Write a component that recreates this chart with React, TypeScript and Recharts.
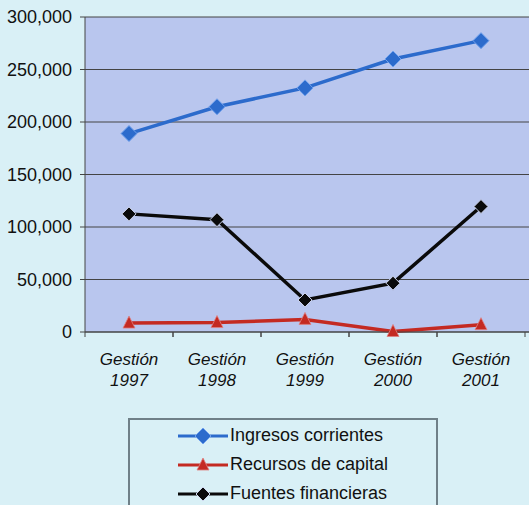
import { LineChart, Line, XAxis, YAxis, CartesianGrid } from "recharts";

const years = ["1997", "1998", "1999", "2000", "2001"];
const ingresosCorrientes = [189000, 214500, 232500, 260000, 277500];
const recursosCapital = [8500, 9000, 12000, 500, 7000];
const fuentesFinancieras = [112500, 107000, 30500, 46500, 119500];
const yTicks = [0, 50000, 100000, 150000, 200000, 250000, 300000];

const SERIES = [
  { key: "ingresos", name: "Ingresos corrientes", color: "#2c6bcc", marker: "diamond" },
  { key: "recursos", name: "Recursos de capital", color: "#c42a22", marker: "triangle" },
  { key: "fuentes", name: "Fuentes financieras", color: "#0a0a0a", marker: "diamondSmall" },
];

const data = years.map((y, i) => ({
  year: y,
  ingresos: ingresosCorrientes[i],
  recursos: recursosCapital[i],
  fuentes: fuentesFinancieras[i],
}));

const FONT = "'Liberation Sans', Arial, sans-serif";

function Marker({ cx, cy, kind, color }: { cx: number; cy: number; kind: string; color: string }) {
  if (kind === "triangle") {
    const s = 6;
    return (
      <path
        d={`M${cx},${cy - s - 1} L${cx + s},${cy + s - 1} L${cx - s},${cy + s - 1} Z`}
        fill={color}
        stroke="#e08080"
        strokeWidth={0.8}
      />
    );
  }
  const r = kind === "diamond" ? 8 : 7;
  return (
    <path
      d={`M${cx},${cy - r} L${cx + r},${cy} L${cx},${cy + r} L${cx - r},${cy} Z`}
      fill={color}
      stroke={kind === "diamond" ? "#6fa0ec" : "#cfd6ee"}
      strokeWidth={1}
    />
  );
}

function makeDot(kind: string, color: string) {
  return (props: any) => {
    const { cx, cy, index } = props;
    if (cx == null || cy == null) return <g key={index} />;
    return <Marker key={index} cx={cx} cy={cy} kind={kind} color={color} />;
  };
}

function XTick(props: any) {
  const { x, y, payload } = props;
  return (
    <g>
      <line x1={x - 44} x2={x - 44} y1={y} y2={y + 5} stroke="#444" />
      <line x1={x + 44} x2={x + 44} y1={y} y2={y + 5} stroke="#444" />
      <text
        x={x}
        y={y}
        textAnchor="middle"
        fontFamily={FONT}
        fontSize={17}
        fontStyle="italic"
        fill="#111"
      >
        <tspan x={x} dy={33}>Gestión</tspan>
        <tspan x={x} dy={21}>{payload.value}</tspan>
      </text>
    </g>
  );
}

function LegendBox() {
  return (
    <div
      style={{
        position: "absolute",
        left: 128,
        top: 418,
        width: 310,
        height: 100,
        border: "2px solid #6f8088",
        boxSizing: "border-box",
        paddingTop: 1,
        paddingLeft: 48,
        fontFamily: FONT,
        fontSize: 18,
        color: "#111",
      }}
    >
      {SERIES.map((s) => (
        <div key={s.key} style={{ height: 29, display: "flex", alignItems: "center" }}>
          <svg width={52} height={18} style={{ display: "block" }}>
            <line x1={0} x2={50} y1={9} y2={9} stroke={s.color} strokeWidth={3} />
            <Marker cx={25} cy={9} kind={s.marker} color={s.color} />
          </svg>
          <span>{s.name}</span>
        </div>
      ))}
    </div>
  );
}

export default function App() {
  return (
    <div
      style={{
        position: "absolute",
        left: 0,
        top: 0,
        width: 529,
        height: 505,
        overflow: "hidden",
        background: "#d9f0f6",
      }}
    >
      <LineChart
        width={545}
        height={505}
        data={data}
        margin={{ top: 17, right: 10, bottom: 113, left: 0 }}
      >
        <CartesianGrid vertical={false} stroke="#444" fill="#b9c6ee" strokeDasharray="" />
        <XAxis
          dataKey="year"
          height={60}
          padding={{ left: 44, right: 54 }}
          tickLine={false}
          tickSize={0}
          tickMargin={0}
          stroke="#444"
          interval={0}
          tick={<XTick />}
        />
        <YAxis
          width={85}
          domain={[0, 300000]}
          ticks={yTicks}
          interval={0}
          tickSize={5}
          tickMargin={8}
          stroke="#444"
          tickFormatter={(v: number) => v.toLocaleString("en-US")}
          tick={{ fontSize: 18, fill: "#111", fontFamily: FONT }}
        />
        {SERIES.map((s) => (
          <Line
            key={s.key}
            dataKey={s.key}
            name={s.name}
            stroke={s.color}
            strokeWidth={3.5}
            type="linear"
            dot={makeDot(s.marker, s.color)}
            activeDot={false}
            isAnimationActive={false}
          />
        ))}
      </LineChart>
      <LegendBox />
    </div>
  );
}
